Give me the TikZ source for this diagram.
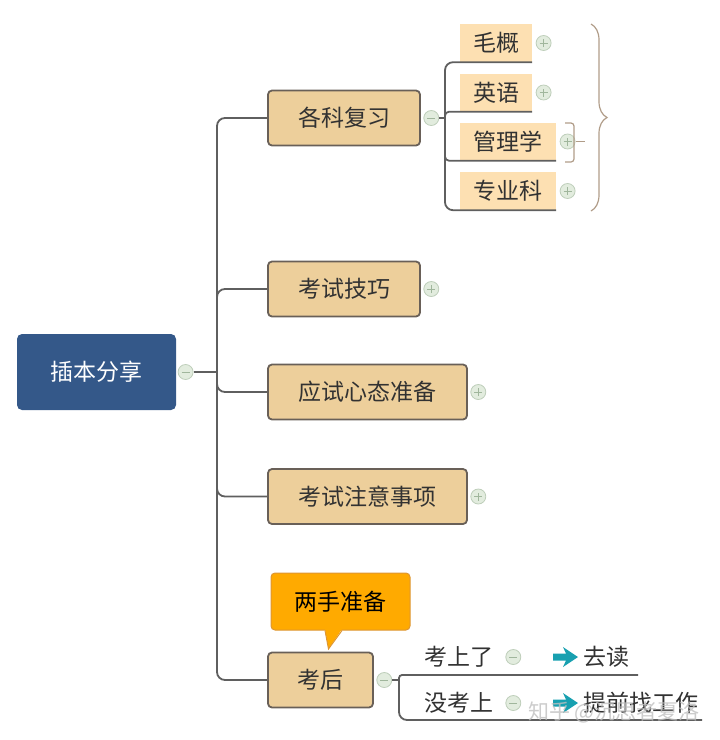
\documentclass[tikz,border=0pt]{standalone}
\usepackage{fontspec}
\newfontfamily\cjk{Noto Sans CJK SC}
\usetikzlibrary{positioning,decorations.pathreplacing}
\definecolor{rootblue}{RGB}{52,88,137}
\definecolor{topicfill}{RGB}{237,207,155}
\definecolor{topicline}{RGB}{105,96,88}
\definecolor{subfill}{RGB}{253,224,178}
\definecolor{branchgray}{RGB}{95,95,95}
\definecolor{knobfill}{RGB}{226,236,222}
\definecolor{knobline}{RGB}{190,206,186}
\definecolor{knobsign}{RGB}{160,182,156}
\definecolor{calloutfill}{RGB}{255,170,0}
\definecolor{calloutline}{RGB}{222,150,50}
\definecolor{bracebrown}{RGB}{176,156,136}
\definecolor{arrowteal}{RGB}{24,160,176}
\definecolor{inkgray}{RGB}{50,50,50}
\tikzset{
	cjktext/.style={font=\cjk\fontsize{23}{23}\selectfont, text=inkgray},
	root/.style={cjktext, text=white, fill=rootblue, rounded corners=5pt, minimum width=159pt, minimum height=76pt},
	topic/.style={cjktext, draw=topicline, line width=1.8pt, fill=topicfill, rounded corners=4pt, minimum height=55pt},
	subtopic/.style={cjktext, fill=subfill, minimum height=38pt},
	leaf/.style={cjktext, inner sep=0pt, anchor=west},
	knob/.style={circle, draw=knobline, fill=knobfill, line width=0.8pt, minimum size=15pt, inner sep=0pt},
	knobminus/.style={knob, path picture={
		\draw[knobsign, line width=0.9pt] ([xshift=-4pt]path picture bounding box.center) -- ([xshift=4pt]path picture bounding box.center);}},
	knobplus/.style={knob, path picture={
		\draw[knobsign, line width=0.9pt] ([xshift=-4pt]path picture bounding box.center) -- ([xshift=4pt]path picture bounding box.center);
		\draw[knobsign, line width=0.9pt] ([yshift=-4pt]path picture bounding box.center) -- ([yshift=4pt]path picture bounding box.center);}},
	branch/.style={draw=branchgray, line width=1.8pt, rounded corners=8pt},
	callout/.style={cjktext, text=black, fill=calloutfill, draw=calloutline, line width=1pt, rounded corners=4pt, minimum width=139pt, minimum height=57pt},
	tealarrow/.pic={\fill[arrowteal] (-25,-3.5) -- (-12,-3.5) -- (-15,-10) -- (0,0) -- (-15,10) -- (-12,3.5) -- (-25,3.5) -- cycle;},
}

\begin{document}
\begin{tikzpicture}[x=1pt,y=-1pt]
	\useasboundingbox (0,0) rectangle (720,740);
	% central topic
	\node[root] (root) at (96.5,372) {插本分享};
	\node[knobminus, right=1.5pt of root] (k0) {};
	\coordinate (j0) at (217,372);

	% main topics
	\node[topic, minimum width=152pt] (t1) at (344,118) {各科复习};
	\node[topic, minimum width=152pt] (t2) at (344,289) {考试技巧};
	\node[topic, minimum width=199pt] (t3) at (367.5,392) {应试心态准备};
	\node[topic, minimum width=199pt] (t4) at (367.5,496.5) {考试注意事项};
	\node[topic, minimum width=105pt] (t5) at (320.5,680) {考后};
	\node[knobminus, right=2.5pt of t1] (k1) {};
	\node[knobplus, right=2.5pt of t2] (k2) {};
	\node[knobplus, right=2.5pt of t3] (k3) {};
	\node[knobplus, right=2.5pt of t4] (k4) {};
	\node[knobminus, right=2.5pt of t5] (k5) {};

	\draw[branch] (k0) -- (j0);
	\foreach \t in {t1,t2,t3,t4,t5}
		\draw[branch] (j0) |- (\t.west);

	% subjects under the first topic
	\node[subtopic, minimum width=72pt] (s1) at (496,43) {毛概};
	\node[subtopic, minimum width=72pt] (s2) at (496,92.5) {英语};
	\node[subtopic, minimum width=96pt] (s3) at (508,141.5) {管理学};
	\node[subtopic, minimum width=96pt] (s4) at (508,191) {专业科};
	\coordinate (j1) at (445,118);
	\draw[branch] (k1) -- (j1);
	\draw[branch] (j1) |- (s1.south east);
	\draw[branch, rounded corners=4pt] (j1) |- (s2.south east);
	\draw[branch, rounded corners=4pt] (j1) |- (s3.south east);
	\draw[branch] (j1) |- (s4.south east);
	\node[knobplus, right=3.5pt of s1] (ks1) {};
	\node[knobplus, right=3.5pt of s2] (ks2) {};
	\node[knobplus, right=3.5pt of s3] (ks3) {};
	\node[knobplus, right=3.5pt of s4] (ks4) {};

	% summary brackets
	\draw[bracebrown, line width=1.2pt, rounded corners=3pt] (565,123) -- (574,123) -- (574,162) -- (565,162);
	\draw[bracebrown, line width=1.2pt] (ks3.east) -- ++(9,0);
	\draw[bracebrown, line width=1.2pt, decorate, decoration={brace, amplitude=16pt}] (591,24) -- (591,211);

	% callout on the last topic
	\node[callout] (n6) at (340.5,601.5) {两手准备};
	\coordinate (ptip) at (328.5,649);
	\fill[calloutfill] ([xshift=-15.5pt,yshift=1.5pt]n6.south) -- ([xshift=1.5pt,yshift=1.5pt]n6.south) -- (ptip) -- cycle;
	\draw[calloutline, line width=1pt] ([xshift=-15.5pt]n6.south) -- (ptip) -- ([xshift=1.5pt]n6.south);

	% two outcomes
	\coordinate (j5) at (399,680);
	\coordinate (u1) at (638,675);
	\coordinate (u2) at (702,720);
	\draw[branch] (k5) -- (j5);
	\draw[branch, rounded corners=3pt] (j5) |- (u1);
	\draw[branch] (j5) |- (u2);
	\node[leaf] (b1) at (424,657) {考上了};
	\node[leaf] (b2) at (424,703) {没考上};
	\node[knobminus, right=12pt of b1] (kb1) {};
	\node[knobminus, right=12pt of b2] (kb2) {};
	\node[leaf] (g1) at (583,657) {去读};
	\node[leaf] (g2) at (583,703) {提前找工作};
	\pic at ([xshift=-5pt]g1.west) {tealarrow};
	\pic at ([xshift=-5pt]g2.west) {tealarrow};

	% watermark
	\node[font=\cjk\fontsize{21}{21}\selectfont, text=black!25, text opacity=0.8] (wm) at (614,712) {知乎 @沉思者夏洛};
\end{tikzpicture}
\end{document}
